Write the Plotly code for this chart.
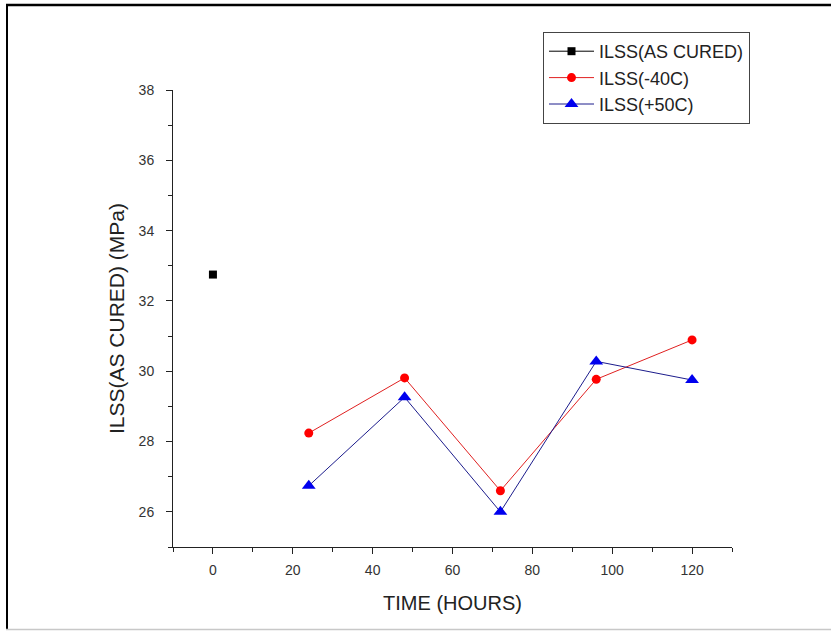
import plotly.graph_objects as go

# ---- data ----
time_as_cured = [0]
ilss_as_cured = [32.75]
time_cond = [24, 48, 72, 96, 120]
ilss_minus40 = [28.24, 29.81, 26.60, 29.77, 30.89]
ilss_plus50 = [26.74, 29.26, 26.00, 30.28, 29.75]
names = ["ILSS(AS CURED)", "ILSS(-40C)", "ILSS(+50C)"]
x_title = "TIME (HOURS)"
y_title = "ILSS(AS CURED) (MPa)"

W, H = 831, 631
L, R, T, B = 173, 99, 90, 84
pw, ph = W - L - R, H - T - B


def px(x):
    return (x - L) / pw


def py(y):
    return (H - B - y) / ph


fig = go.Figure()
fig.add_trace(go.Scatter(x=time_as_cured, y=ilss_as_cured, name=names[0],
                         mode="lines+markers",
                         line=dict(color="black", width=1),
                         marker=dict(symbol="square", size=8, color="black")))
fig.add_trace(go.Scatter(x=time_cond, y=ilss_minus40, name=names[1],
                         mode="lines+markers",
                         line=dict(color="#e02020", width=1),
                         marker=dict(symbol="circle", size=9, color="#ff0000")))
fig.add_trace(go.Scatter(x=time_cond, y=ilss_plus50, name=names[2],
                         mode="lines+markers",
                         line=dict(color="#1c1c8c", width=1),
                         marker=dict(symbol="triangle-up", size=12, color="#0000ee")))

axis_common = dict(showgrid=False, zeroline=False, showline=True,
                   linecolor="#222", linewidth=1, ticks="outside",
                   tickcolor="#222", ticklen=6, tickwidth=1,
                   tickfont=dict(family="Liberation Sans", size=14, color="#333"))

fig.update_xaxes(range=[-10, 130], tick0=0, dtick=20,
                 minor=dict(dtick=10, tick0=0, ticks="outside", ticklen=4,
                            tickcolor="#222"),
                 ticklabelstandoff=4,
                 title=dict(text=x_title, standoff=19,
                            font=dict(family="Liberation Sans", size=20, color="#222")),
                 **axis_common)
fig.update_yaxes(range=[25, 38], tick0=26, dtick=2,
                 minor=dict(dtick=1, tick0=25, ticks="outside", ticklen=4,
                            tickcolor="#222"),
                 ticklabelstandoff=9,
                 title=dict(text=y_title, standoff=8,
                            font=dict(family="Liberation Sans", size=21, color="#222")),
                 **axis_common)

shapes = [
    dict(type="line", xref="paper", yref="paper", x0=px(7), x1=px(7),
         y0=py(5), y1=py(629), line=dict(color="black", width=2)),
    dict(type="line", xref="paper", yref="paper", x0=px(6), x1=px(831),
         y0=py(5), y1=py(5), line=dict(color="black", width=2.5)),
    dict(type="line", xref="paper", yref="paper", x0=px(6), x1=px(831),
         y0=py(629.5), y1=py(629.5), line=dict(color="#c8c8c8", width=1.5)),
]

fig.update_layout(
    width=W, height=H,
    margin=dict(l=L, r=R, t=T, b=B),
    paper_bgcolor="white", plot_bgcolor="white",
    shapes=shapes,
    showlegend=True,
    legend=dict(x=px(543), y=py(32), xanchor="left", yanchor="top",
                bgcolor="white", bordercolor="#444", borderwidth=1,
                font=dict(family="Liberation Sans", size=18, color="#222"),
                itemwidth=45, tracegroupgap=0),
)

fig.write_html("out.html")
